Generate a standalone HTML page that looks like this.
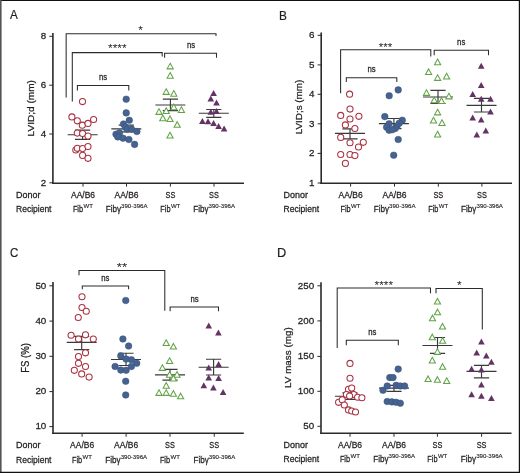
<!DOCTYPE html><html><head><meta charset="utf-8"><style>html,body{margin:0;padding:0;background:#fff;}svg{display:block;will-change:transform;}text{font-family:"Liberation Sans",sans-serif;fill:#231f20;stroke:#231f20;stroke-width:0.26px;}</style></head><body>
<svg width="520" height="473" viewBox="0 0 520 473">
<rect x="0" y="0" width="520" height="473" fill="#fff"/>
<text x="10" y="19.2" font-size="13" text-anchor="start" textLength="7.8" lengthAdjust="spacingAndGlyphs" style="stroke-width:0.2px">A</text>
<path d="M52.9 32.9V183.9" stroke="#2a2a2a" stroke-width="1.6" fill="none"/>
<path d="M52.2 183.2H244" stroke="#2a2a2a" stroke-width="1.6" fill="none"/>
<path d="M49.3 36.3H52.9" stroke="#2b2b2b" stroke-width="1" fill="none"/>
<text x="46.2" y="39" font-size="9.8" text-anchor="end">8</text>
<path d="M49.3 85.2H52.9" stroke="#2b2b2b" stroke-width="1" fill="none"/>
<text x="46.2" y="87.9" font-size="9.8" text-anchor="end">6</text>
<path d="M49.3 134H52.9" stroke="#2b2b2b" stroke-width="1" fill="none"/>
<text x="46.2" y="136.7" font-size="9.8" text-anchor="end">4</text>
<path d="M49.3 182.8H52.9" stroke="#2b2b2b" stroke-width="1" fill="none"/>
<text x="46.2" y="185.5" font-size="9.8" text-anchor="end">2</text>
<path d="M83 183.2V186.6" stroke="#2b2b2b" stroke-width="1" fill="none"/>
<path d="M126.5 183.2V186.6" stroke="#2b2b2b" stroke-width="1" fill="none"/>
<path d="M170.4 183.2V186.6" stroke="#2b2b2b" stroke-width="1" fill="none"/>
<path d="M214 183.2V186.6" stroke="#2b2b2b" stroke-width="1" fill="none"/>
<text transform="translate(34.3 108.25) rotate(-90)" x="0" y="0" font-size="9.8" text-anchor="middle" textLength="56.3" lengthAdjust="spacingAndGlyphs">LVID;d (mm)</text>
<path d="M66.15 97.6V33.7H216V35.9" stroke="#2b2b2b" stroke-width="1.05" fill="none"/>
<text x="140.6" y="34.35" font-size="11.8" text-anchor="middle" textLength="4.65" lengthAdjust="spacingAndGlyphs" style="stroke-width:0px">*</text>
<path d="M72.3 101.6V52.6H162.2V56.4" stroke="#2b2b2b" stroke-width="1.05" fill="none"/>
<text x="117.3" y="52.35" font-size="11.8" text-anchor="middle" textLength="18.6" lengthAdjust="spacingAndGlyphs" style="stroke-width:0px">****</text>
<path d="M77.4 90.4V85.5H128.8V90.4" stroke="#2b2b2b" stroke-width="1.05" fill="none"/>
<text x="103" y="79.9" font-size="9" text-anchor="middle" textLength="8.2" lengthAdjust="spacingAndGlyphs">ns</text>
<path d="M164.6 57.7V53.2H216.5V57.7" stroke="#2b2b2b" stroke-width="1.05" fill="none"/>
<text x="191" y="47.6" font-size="9" text-anchor="middle" textLength="8.2" lengthAdjust="spacingAndGlyphs">ns</text>
<path d="M67.6 134.75H97.6 M75 130.1H90.2 M75 139.4H90.2 M82.6 130.1V139.4" stroke="#3a3a3a" stroke-width="1.15" fill="none"/>
<path d="M111.3 128.9H141.3 M118.7 125.05H133.9 M118.7 131.8H133.9 M126.3 125.05V131.8" stroke="#3a3a3a" stroke-width="1.15" fill="none"/>
<path d="M155.4 105H185.4 M162.8 99.1H178 M162.8 110.6H178 M170.4 99.1V110.6" stroke="#3a3a3a" stroke-width="1.15" fill="none"/>
<path d="M198.8 113.2H228.8 M206.2 109.5H221.4 M206.2 117.3H221.4 M213.8 109.5V117.3" stroke="#3a3a3a" stroke-width="1.15" fill="none"/>
<circle cx="82.5" cy="101.6" r="3.05" fill="#fff" stroke="#a9303f" stroke-width="1.05"/>
<circle cx="71.9" cy="116.9" r="3.05" fill="#fff" stroke="#a9303f" stroke-width="1.05"/>
<circle cx="77.3" cy="120.8" r="3.05" fill="#fff" stroke="#a9303f" stroke-width="1.05"/>
<circle cx="82.3" cy="125.2" r="3.05" fill="#fff" stroke="#a9303f" stroke-width="1.05"/>
<circle cx="88" cy="123.4" r="3.05" fill="#fff" stroke="#a9303f" stroke-width="1.05"/>
<circle cx="93.6" cy="119.5" r="3.05" fill="#fff" stroke="#a9303f" stroke-width="1.05"/>
<circle cx="77.3" cy="133.1" r="3.05" fill="#fff" stroke="#a9303f" stroke-width="1.05"/>
<circle cx="82.6" cy="133.5" r="3.05" fill="#fff" stroke="#a9303f" stroke-width="1.05"/>
<circle cx="88" cy="136.1" r="3.05" fill="#fff" stroke="#a9303f" stroke-width="1.05"/>
<circle cx="75.8" cy="150" r="3.05" fill="#fff" stroke="#a9303f" stroke-width="1.05"/>
<circle cx="77.3" cy="148.3" r="3.05" fill="#fff" stroke="#a9303f" stroke-width="1.05"/>
<circle cx="82.6" cy="148.6" r="3.05" fill="#fff" stroke="#a9303f" stroke-width="1.05"/>
<circle cx="88" cy="146.5" r="3.05" fill="#fff" stroke="#a9303f" stroke-width="1.05"/>
<circle cx="82.6" cy="155.4" r="3.05" fill="#fff" stroke="#a9303f" stroke-width="1.05"/>
<circle cx="88" cy="158.3" r="3.05" fill="#fff" stroke="#a9303f" stroke-width="1.05"/>
<circle cx="126.2" cy="99.2" r="3.3" fill="#46628e" stroke="#36527e" stroke-width="0.5"/>
<circle cx="126.2" cy="112.9" r="3.3" fill="#46628e" stroke="#36527e" stroke-width="0.5"/>
<circle cx="129.3" cy="120.3" r="3.3" fill="#46628e" stroke="#36527e" stroke-width="0.5"/>
<circle cx="123.5" cy="124" r="3.3" fill="#46628e" stroke="#36527e" stroke-width="0.5"/>
<circle cx="125.3" cy="127.1" r="3.3" fill="#46628e" stroke="#36527e" stroke-width="0.5"/>
<circle cx="127.1" cy="129.3" r="3.3" fill="#46628e" stroke="#36527e" stroke-width="0.5"/>
<circle cx="131.5" cy="129.1" r="3.3" fill="#46628e" stroke="#36527e" stroke-width="0.5"/>
<circle cx="136.9" cy="131.5" r="3.3" fill="#46628e" stroke="#36527e" stroke-width="0.5"/>
<circle cx="116" cy="134.2" r="3.3" fill="#46628e" stroke="#36527e" stroke-width="0.5"/>
<circle cx="119.5" cy="132.9" r="3.3" fill="#46628e" stroke="#36527e" stroke-width="0.5"/>
<circle cx="117.8" cy="136.9" r="3.3" fill="#46628e" stroke="#36527e" stroke-width="0.5"/>
<circle cx="123.1" cy="138.2" r="3.3" fill="#46628e" stroke="#36527e" stroke-width="0.5"/>
<circle cx="128.9" cy="139.5" r="3.3" fill="#46628e" stroke="#36527e" stroke-width="0.5"/>
<circle cx="134.6" cy="144.4" r="3.3" fill="#46628e" stroke="#36527e" stroke-width="0.5"/>
<path d="M170.2 63.25L173.3 68.85L167.1 68.85Z" fill="#fff" stroke="#62a348" stroke-width="1.05" stroke-linejoin="miter"/>
<path d="M170.2 72.55L173.3 78.15L167.1 78.15Z" fill="#fff" stroke="#62a348" stroke-width="1.05" stroke-linejoin="miter"/>
<path d="M166.2 88.75L169.3 94.35L163.1 94.35Z" fill="#fff" stroke="#62a348" stroke-width="1.05" stroke-linejoin="miter"/>
<path d="M173.8 90.55L176.9 96.15L170.7 96.15Z" fill="#fff" stroke="#62a348" stroke-width="1.05" stroke-linejoin="miter"/>
<path d="M159 108.75L162.1 114.35L155.9 114.35Z" fill="#fff" stroke="#62a348" stroke-width="1.05" stroke-linejoin="miter"/>
<path d="M166.2 107.85L169.3 113.45L163.1 113.45Z" fill="#fff" stroke="#62a348" stroke-width="1.05" stroke-linejoin="miter"/>
<path d="M173.8 104.05L176.9 109.65L170.7 109.65Z" fill="#fff" stroke="#62a348" stroke-width="1.05" stroke-linejoin="miter"/>
<path d="M181.4 106.85L184.5 112.45L178.3 112.45Z" fill="#fff" stroke="#62a348" stroke-width="1.05" stroke-linejoin="miter"/>
<path d="M162.8 115.05L165.9 120.65L159.7 120.65Z" fill="#fff" stroke="#62a348" stroke-width="1.05" stroke-linejoin="miter"/>
<path d="M170 115.95L173.1 121.55L166.9 121.55Z" fill="#fff" stroke="#62a348" stroke-width="1.05" stroke-linejoin="miter"/>
<path d="M177.2 121.65L180.3 127.25L174.1 127.25Z" fill="#fff" stroke="#62a348" stroke-width="1.05" stroke-linejoin="miter"/>
<path d="M170 132.35L173.1 137.95L166.9 137.95Z" fill="#fff" stroke="#62a348" stroke-width="1.05" stroke-linejoin="miter"/>
<path d="M213.6 89.9L216.9 95.9L210.3 95.9Z" fill="#633363"/>
<path d="M210.8 95.4L214.1 101.4L207.5 101.4Z" fill="#633363"/>
<path d="M216.5 99.6L219.8 105.6L213.2 105.6Z" fill="#633363"/>
<path d="M210.8 108.7L214.1 114.7L207.5 114.7Z" fill="#633363"/>
<path d="M216.5 108L219.8 114L213.2 114Z" fill="#633363"/>
<path d="M202.4 118L205.7 124L199.1 124Z" fill="#633363"/>
<path d="M208 118.2L211.3 124.2L204.7 124.2Z" fill="#633363"/>
<path d="M213.6 119.9L216.9 125.9L210.3 125.9Z" fill="#633363"/>
<path d="M218.6 122.9L221.9 128.9L215.3 128.9Z" fill="#633363"/>
<path d="M224.1 125.4L227.4 131.4L220.8 131.4Z" fill="#633363"/>
<text x="16" y="198.2" font-size="9" text-anchor="start" textLength="24.4" lengthAdjust="spacingAndGlyphs">Donor</text>
<text x="16" y="212" font-size="9" text-anchor="start" textLength="35.5" lengthAdjust="spacingAndGlyphs">Recipient</text>
<text x="83" y="198.2" font-size="9" text-anchor="middle" textLength="24" lengthAdjust="spacingAndGlyphs">AA/B6</text>
<text x="126.5" y="198.2" font-size="9" text-anchor="middle" textLength="24" lengthAdjust="spacingAndGlyphs">AA/B6</text>
<text x="170.4" y="198.2" font-size="9" text-anchor="middle" textLength="9.8" lengthAdjust="spacingAndGlyphs">SS</text>
<text x="214" y="198.2" font-size="9" text-anchor="middle" textLength="9.8" lengthAdjust="spacingAndGlyphs">SS</text>
<text x="72.9" y="212" font-size="9" text-anchor="start" textLength="10.2" lengthAdjust="spacingAndGlyphs">Fib</text>
<text x="83.5" y="207.8" font-size="6.2" text-anchor="start" textLength="9.4" lengthAdjust="spacingAndGlyphs" style="stroke-width:0.14px">WT</text>
<text x="105.7" y="212" font-size="9" text-anchor="start" textLength="15.3" lengthAdjust="spacingAndGlyphs">Fib&#947;</text>
<text x="121.1" y="207.8" font-size="6.2" text-anchor="start" textLength="26.4" lengthAdjust="spacingAndGlyphs" style="stroke-width:0.14px">390-396A</text>
<text x="160.3" y="212" font-size="9" text-anchor="start" textLength="10.2" lengthAdjust="spacingAndGlyphs">Fib</text>
<text x="170.9" y="207.8" font-size="6.2" text-anchor="start" textLength="9.4" lengthAdjust="spacingAndGlyphs" style="stroke-width:0.14px">WT</text>
<text x="193.2" y="212" font-size="9" text-anchor="start" textLength="15.3" lengthAdjust="spacingAndGlyphs">Fib&#947;</text>
<text x="208.6" y="207.8" font-size="6.2" text-anchor="start" textLength="26.4" lengthAdjust="spacingAndGlyphs" style="stroke-width:0.14px">390-396A</text>
<text x="279" y="19.5" font-size="12.5" text-anchor="start" textLength="7.9" lengthAdjust="spacingAndGlyphs" style="stroke-width:0.2px">B</text>
<path d="M321.2 32.6V183.9" stroke="#2a2a2a" stroke-width="1.6" fill="none"/>
<path d="M320.4 183.2H512" stroke="#2a2a2a" stroke-width="1.6" fill="none"/>
<path d="M317.6 35.3H321.2" stroke="#2b2b2b" stroke-width="1" fill="none"/>
<text x="314.4" y="38" font-size="9.8" text-anchor="end">6</text>
<path d="M317.6 64.9H321.2" stroke="#2b2b2b" stroke-width="1" fill="none"/>
<text x="314.4" y="67.6" font-size="9.8" text-anchor="end">5</text>
<path d="M317.6 94.3H321.2" stroke="#2b2b2b" stroke-width="1" fill="none"/>
<text x="314.4" y="97" font-size="9.8" text-anchor="end">4</text>
<path d="M317.6 123.8H321.2" stroke="#2b2b2b" stroke-width="1" fill="none"/>
<text x="314.4" y="126.5" font-size="9.8" text-anchor="end">3</text>
<path d="M317.6 153.4H321.2" stroke="#2b2b2b" stroke-width="1" fill="none"/>
<text x="314.4" y="156.1" font-size="9.8" text-anchor="end">2</text>
<path d="M317.6 183H321.2" stroke="#2b2b2b" stroke-width="1" fill="none"/>
<text x="314.4" y="185.7" font-size="9.8" text-anchor="end">1</text>
<path d="M350.6 183.2V186.6" stroke="#2b2b2b" stroke-width="1" fill="none"/>
<path d="M394.5 183.2V186.6" stroke="#2b2b2b" stroke-width="1" fill="none"/>
<path d="M438.3 183.2V186.6" stroke="#2b2b2b" stroke-width="1" fill="none"/>
<path d="M481.9 183.2V186.6" stroke="#2b2b2b" stroke-width="1" fill="none"/>
<text transform="translate(301.8 107) rotate(-90)" x="0" y="0" font-size="9.8" text-anchor="middle" textLength="54.5" lengthAdjust="spacingAndGlyphs">LVID;s (mm)</text>
<path d="M340.6 93.3V49.8H430.8V56.5" stroke="#2b2b2b" stroke-width="1.05" fill="none"/>
<text x="385.6" y="51.05" font-size="11.8" text-anchor="middle" textLength="13.5" lengthAdjust="spacingAndGlyphs" style="stroke-width:0px">***</text>
<path d="M346.3 82V77.8H396.8V82" stroke="#2b2b2b" stroke-width="1.05" fill="none"/>
<text x="371.5" y="71.6" font-size="9" text-anchor="middle" textLength="8.2" lengthAdjust="spacingAndGlyphs">ns</text>
<path d="M434.2 55.3V50.3H488.5V55.3" stroke="#2b2b2b" stroke-width="1.05" fill="none"/>
<text x="461.2" y="44.5" font-size="9" text-anchor="middle" textLength="8.2" lengthAdjust="spacingAndGlyphs">ns</text>
<path d="M335 133.4H365 M342.4 128.8H357.6 M342.4 138.9H357.6 M350 128.8V138.9" stroke="#3a3a3a" stroke-width="1.15" fill="none"/>
<path d="M378.9 123.6H408.9 M386.3 118.5H401.5 M386.3 128.6H401.5 M393.9 118.5V128.6" stroke="#3a3a3a" stroke-width="1.15" fill="none"/>
<path d="M423 97H453 M430.4 90.3H445.6 M430.4 103.5H445.6 M438 90.3V103.5" stroke="#3a3a3a" stroke-width="1.15" fill="none"/>
<path d="M466.5 105.3H496.5 M473.9 98.4H489.1 M473.9 112H489.1 M481.5 98.4V112" stroke="#3a3a3a" stroke-width="1.15" fill="none"/>
<circle cx="349.6" cy="94.2" r="3.05" fill="#fff" stroke="#a9303f" stroke-width="1.05"/>
<circle cx="350" cy="109.1" r="3.05" fill="#fff" stroke="#a9303f" stroke-width="1.05"/>
<circle cx="340.7" cy="115.4" r="3.05" fill="#fff" stroke="#a9303f" stroke-width="1.05"/>
<circle cx="350" cy="119" r="3.05" fill="#fff" stroke="#a9303f" stroke-width="1.05"/>
<circle cx="358.9" cy="116.3" r="3.05" fill="#fff" stroke="#a9303f" stroke-width="1.05"/>
<circle cx="345.4" cy="124.9" r="3.05" fill="#fff" stroke="#a9303f" stroke-width="1.05"/>
<circle cx="354.9" cy="128.5" r="3.05" fill="#fff" stroke="#a9303f" stroke-width="1.05"/>
<circle cx="340.7" cy="137.4" r="3.05" fill="#fff" stroke="#a9303f" stroke-width="1.05"/>
<circle cx="350" cy="142.7" r="3.05" fill="#fff" stroke="#a9303f" stroke-width="1.05"/>
<circle cx="363.3" cy="142.3" r="3.05" fill="#fff" stroke="#a9303f" stroke-width="1.05"/>
<circle cx="358.5" cy="147" r="3.05" fill="#fff" stroke="#a9303f" stroke-width="1.05"/>
<circle cx="340.7" cy="154.5" r="3.05" fill="#fff" stroke="#a9303f" stroke-width="1.05"/>
<circle cx="350" cy="154.5" r="3.05" fill="#fff" stroke="#a9303f" stroke-width="1.05"/>
<circle cx="354.9" cy="155.6" r="3.05" fill="#fff" stroke="#a9303f" stroke-width="1.05"/>
<circle cx="345.4" cy="163.4" r="3.05" fill="#fff" stroke="#a9303f" stroke-width="1.05"/>
<circle cx="398.2" cy="89.9" r="3.3" fill="#46628e" stroke="#36527e" stroke-width="0.5"/>
<circle cx="389.2" cy="95.7" r="3.3" fill="#46628e" stroke="#36527e" stroke-width="0.5"/>
<circle cx="384.8" cy="116.6" r="3.3" fill="#46628e" stroke="#36527e" stroke-width="0.5"/>
<circle cx="402.3" cy="120.2" r="3.3" fill="#46628e" stroke="#36527e" stroke-width="0.5"/>
<circle cx="399.2" cy="123.2" r="3.3" fill="#46628e" stroke="#36527e" stroke-width="0.5"/>
<circle cx="397.1" cy="126" r="3.3" fill="#46628e" stroke="#36527e" stroke-width="0.5"/>
<circle cx="395.2" cy="128.5" r="3.3" fill="#46628e" stroke="#36527e" stroke-width="0.5"/>
<circle cx="389.1" cy="123.8" r="3.3" fill="#46628e" stroke="#36527e" stroke-width="0.5"/>
<circle cx="386.6" cy="127.2" r="3.3" fill="#46628e" stroke="#36527e" stroke-width="0.5"/>
<circle cx="389.1" cy="130.3" r="3.3" fill="#46628e" stroke="#36527e" stroke-width="0.5"/>
<circle cx="392.2" cy="129.7" r="3.3" fill="#46628e" stroke="#36527e" stroke-width="0.5"/>
<circle cx="398.2" cy="139.5" r="3.3" fill="#46628e" stroke="#36527e" stroke-width="0.5"/>
<circle cx="393.7" cy="155.2" r="3.3" fill="#46628e" stroke="#36527e" stroke-width="0.5"/>
<path d="M437.6 59.05L440.7 64.65L434.5 64.65Z" fill="#fff" stroke="#62a348" stroke-width="1.05" stroke-linejoin="miter"/>
<path d="M428.6 68.95L431.7 74.55L425.5 74.55Z" fill="#fff" stroke="#62a348" stroke-width="1.05" stroke-linejoin="miter"/>
<path d="M437.6 74.75L440.7 80.35L434.5 80.35Z" fill="#fff" stroke="#62a348" stroke-width="1.05" stroke-linejoin="miter"/>
<path d="M446.6 73.35L449.7 78.95L443.5 78.95Z" fill="#fff" stroke="#62a348" stroke-width="1.05" stroke-linejoin="miter"/>
<path d="M426.5 89.75L429.6 95.35L423.4 95.35Z" fill="#fff" stroke="#62a348" stroke-width="1.05" stroke-linejoin="miter"/>
<path d="M448.9 93.25L452 98.85L445.8 98.85Z" fill="#fff" stroke="#62a348" stroke-width="1.05" stroke-linejoin="miter"/>
<path d="M434.2 97.15L437.3 102.75L431.1 102.75Z" fill="#fff" stroke="#62a348" stroke-width="1.05" stroke-linejoin="miter"/>
<path d="M441.5 97.85L444.6 103.45L438.4 103.45Z" fill="#fff" stroke="#62a348" stroke-width="1.05" stroke-linejoin="miter"/>
<path d="M437.6 109.25L440.7 114.85L434.5 114.85Z" fill="#fff" stroke="#62a348" stroke-width="1.05" stroke-linejoin="miter"/>
<path d="M433.5 117.35L436.6 122.95L430.4 122.95Z" fill="#fff" stroke="#62a348" stroke-width="1.05" stroke-linejoin="miter"/>
<path d="M442 119.85L445.1 125.45L438.9 125.45Z" fill="#fff" stroke="#62a348" stroke-width="1.05" stroke-linejoin="miter"/>
<path d="M437.6 131.35L440.7 136.95L434.5 136.95Z" fill="#fff" stroke="#62a348" stroke-width="1.05" stroke-linejoin="miter"/>
<path d="M481.2 62.7L484.5 68.7L477.9 68.7Z" fill="#633363"/>
<path d="M481.2 81.9L484.5 87.9L477.9 87.9Z" fill="#633363"/>
<path d="M472.7 91.1L476 97.1L469.4 97.1Z" fill="#633363"/>
<path d="M481.2 95.7L484.5 101.7L477.9 101.7Z" fill="#633363"/>
<path d="M490.5 95.7L493.8 101.7L487.2 101.7Z" fill="#633363"/>
<path d="M490.5 108.4L493.8 114.4L487.2 114.4Z" fill="#633363"/>
<path d="M472.7 114.6L476 120.6L469.4 120.6Z" fill="#633363"/>
<path d="M481.2 116.6L484.5 122.6L477.9 122.6Z" fill="#633363"/>
<path d="M485.8 127.4L489.1 133.4L482.5 133.4Z" fill="#633363"/>
<path d="M476.8 131.5L480.1 137.5L473.5 137.5Z" fill="#633363"/>
<text x="283.6" y="198.2" font-size="9" text-anchor="start" textLength="24.4" lengthAdjust="spacingAndGlyphs">Donor</text>
<text x="283.6" y="212" font-size="9" text-anchor="start" textLength="35.5" lengthAdjust="spacingAndGlyphs">Recipient</text>
<text x="350.6" y="198.2" font-size="9" text-anchor="middle" textLength="24" lengthAdjust="spacingAndGlyphs">AA/B6</text>
<text x="394.5" y="198.2" font-size="9" text-anchor="middle" textLength="24" lengthAdjust="spacingAndGlyphs">AA/B6</text>
<text x="438.3" y="198.2" font-size="9" text-anchor="middle" textLength="9.8" lengthAdjust="spacingAndGlyphs">SS</text>
<text x="481.9" y="198.2" font-size="9" text-anchor="middle" textLength="9.8" lengthAdjust="spacingAndGlyphs">SS</text>
<text x="340.5" y="212" font-size="9" text-anchor="start" textLength="10.2" lengthAdjust="spacingAndGlyphs">Fib</text>
<text x="351.1" y="207.8" font-size="6.2" text-anchor="start" textLength="9.4" lengthAdjust="spacingAndGlyphs" style="stroke-width:0.14px">WT</text>
<text x="373.7" y="212" font-size="9" text-anchor="start" textLength="15.3" lengthAdjust="spacingAndGlyphs">Fib&#947;</text>
<text x="389.1" y="207.8" font-size="6.2" text-anchor="start" textLength="26.4" lengthAdjust="spacingAndGlyphs" style="stroke-width:0.14px">390-396A</text>
<text x="428.2" y="212" font-size="9" text-anchor="start" textLength="10.2" lengthAdjust="spacingAndGlyphs">Fib</text>
<text x="438.8" y="207.8" font-size="6.2" text-anchor="start" textLength="9.4" lengthAdjust="spacingAndGlyphs" style="stroke-width:0.14px">WT</text>
<text x="461.1" y="212" font-size="9" text-anchor="start" textLength="15.3" lengthAdjust="spacingAndGlyphs">Fib&#947;</text>
<text x="476.5" y="207.8" font-size="6.2" text-anchor="start" textLength="26.4" lengthAdjust="spacingAndGlyphs" style="stroke-width:0.14px">390-396A</text>
<text x="9.9" y="256.8" font-size="12.5" text-anchor="start" textLength="8.3" lengthAdjust="spacingAndGlyphs" style="stroke-width:0.2px">C</text>
<path d="M53 282.1V434" stroke="#2a2a2a" stroke-width="1.6" fill="none"/>
<path d="M52.3 433.3H243.8" stroke="#2a2a2a" stroke-width="1.6" fill="none"/>
<path d="M49.4 285.8H53" stroke="#2b2b2b" stroke-width="1" fill="none"/>
<text x="46.3" y="288.5" font-size="9.8" text-anchor="end">50</text>
<path d="M49.4 321.1H53" stroke="#2b2b2b" stroke-width="1" fill="none"/>
<text x="46.3" y="323.8" font-size="9.8" text-anchor="end">40</text>
<path d="M49.4 356.3H53" stroke="#2b2b2b" stroke-width="1" fill="none"/>
<text x="46.3" y="359" font-size="9.8" text-anchor="end">30</text>
<path d="M49.4 391.6H53" stroke="#2b2b2b" stroke-width="1" fill="none"/>
<text x="46.3" y="394.3" font-size="9.8" text-anchor="end">20</text>
<path d="M49.4 426.6H53" stroke="#2b2b2b" stroke-width="1" fill="none"/>
<text x="46.3" y="429.3" font-size="9.8" text-anchor="end">10</text>
<path d="M82.1 433.3V436.7" stroke="#2b2b2b" stroke-width="1" fill="none"/>
<path d="M126.1 433.3V436.7" stroke="#2b2b2b" stroke-width="1" fill="none"/>
<path d="M170 433.3V436.7" stroke="#2b2b2b" stroke-width="1" fill="none"/>
<path d="M214.25 433.3V436.7" stroke="#2b2b2b" stroke-width="1" fill="none"/>
<text transform="translate(28.5 357.9) rotate(-90)" x="0" y="0" font-size="10.4" text-anchor="middle" textLength="29.8" lengthAdjust="spacingAndGlyphs">FS (%)</text>
<path d="M79 275.3V270.4H164.8V310.7" stroke="#2b2b2b" stroke-width="1.05" fill="none"/>
<text x="122" y="271.05" font-size="11.8" text-anchor="middle" textLength="10.4" lengthAdjust="spacingAndGlyphs" style="stroke-width:0px">**</text>
<path d="M82.3 289.3V285.9H128.6V289.3" stroke="#2b2b2b" stroke-width="1.05" fill="none"/>
<text x="105.3" y="281" font-size="9" text-anchor="middle" textLength="8.2" lengthAdjust="spacingAndGlyphs">ns</text>
<path d="M170.1 311.2V307H218.5V311.2" stroke="#2b2b2b" stroke-width="1.05" fill="none"/>
<text x="194.5" y="301.5" font-size="9" text-anchor="middle" textLength="8.2" lengthAdjust="spacingAndGlyphs">ns</text>
<path d="M66.7 342.4H96.7 M74.1 336.3H89.3 M74.1 349.6H89.3 M81.7 336.3V349.6" stroke="#3a3a3a" stroke-width="1.15" fill="none"/>
<path d="M111 359.5H141 M118.4 353.2H133.6 M118.4 365.5H133.6 M126 353.2V365.5" stroke="#3a3a3a" stroke-width="1.15" fill="none"/>
<path d="M155 374.8H185 M162.4 369.3H177.6 M162.4 380.1H177.6 M170 369.3V380.1" stroke="#3a3a3a" stroke-width="1.15" fill="none"/>
<path d="M198.6 367.2H228.6 M206 359.2H221.2 M206 375H221.2 M213.6 359.2V375" stroke="#3a3a3a" stroke-width="1.15" fill="none"/>
<circle cx="82" cy="296.75" r="3.05" fill="#fff" stroke="#a9303f" stroke-width="1.05"/>
<circle cx="82" cy="307.5" r="3.05" fill="#fff" stroke="#a9303f" stroke-width="1.05"/>
<circle cx="86.25" cy="311.25" r="3.05" fill="#fff" stroke="#a9303f" stroke-width="1.05"/>
<circle cx="78.25" cy="317.5" r="3.05" fill="#fff" stroke="#a9303f" stroke-width="1.05"/>
<circle cx="71.1" cy="335.2" r="3.05" fill="#fff" stroke="#a9303f" stroke-width="1.05"/>
<circle cx="85.5" cy="334.8" r="3.05" fill="#fff" stroke="#a9303f" stroke-width="1.05"/>
<circle cx="78.5" cy="339" r="3.05" fill="#fff" stroke="#a9303f" stroke-width="1.05"/>
<circle cx="93.3" cy="339" r="3.05" fill="#fff" stroke="#a9303f" stroke-width="1.05"/>
<circle cx="85.5" cy="352.8" r="3.05" fill="#fff" stroke="#a9303f" stroke-width="1.05"/>
<circle cx="78.5" cy="356.6" r="3.05" fill="#fff" stroke="#a9303f" stroke-width="1.05"/>
<circle cx="78.5" cy="363.3" r="3.05" fill="#fff" stroke="#a9303f" stroke-width="1.05"/>
<circle cx="85.5" cy="366.5" r="3.05" fill="#fff" stroke="#a9303f" stroke-width="1.05"/>
<circle cx="74.3" cy="370.3" r="3.05" fill="#fff" stroke="#a9303f" stroke-width="1.05"/>
<circle cx="81.7" cy="373.9" r="3.05" fill="#fff" stroke="#a9303f" stroke-width="1.05"/>
<circle cx="89.1" cy="377.1" r="3.05" fill="#fff" stroke="#a9303f" stroke-width="1.05"/>
<circle cx="125.75" cy="300.5" r="3.3" fill="#46628e" stroke="#36527e" stroke-width="0.5"/>
<circle cx="122.9" cy="339" r="3.3" fill="#46628e" stroke="#36527e" stroke-width="0.5"/>
<circle cx="128.6" cy="346" r="3.3" fill="#46628e" stroke="#36527e" stroke-width="0.5"/>
<circle cx="120.8" cy="355.9" r="3.3" fill="#46628e" stroke="#36527e" stroke-width="0.5"/>
<circle cx="126.1" cy="359.1" r="3.3" fill="#46628e" stroke="#36527e" stroke-width="0.5"/>
<circle cx="131.4" cy="359.7" r="3.3" fill="#46628e" stroke="#36527e" stroke-width="0.5"/>
<circle cx="136.7" cy="363.3" r="3.3" fill="#46628e" stroke="#36527e" stroke-width="0.5"/>
<circle cx="115.1" cy="366.5" r="3.3" fill="#46628e" stroke="#36527e" stroke-width="0.5"/>
<circle cx="120.8" cy="370.1" r="3.3" fill="#46628e" stroke="#36527e" stroke-width="0.5"/>
<circle cx="126.1" cy="370.3" r="3.3" fill="#46628e" stroke="#36527e" stroke-width="0.5"/>
<circle cx="131.4" cy="366.5" r="3.3" fill="#46628e" stroke="#36527e" stroke-width="0.5"/>
<circle cx="125.7" cy="381.3" r="3.3" fill="#46628e" stroke="#36527e" stroke-width="0.5"/>
<circle cx="125.7" cy="395" r="3.3" fill="#46628e" stroke="#36527e" stroke-width="0.5"/>
<path d="M166.2 339.85L169.3 345.45L163.1 345.45Z" fill="#fff" stroke="#62a348" stroke-width="1.05" stroke-linejoin="miter"/>
<path d="M173.4 343.45L176.5 349.05L170.3 349.05Z" fill="#fff" stroke="#62a348" stroke-width="1.05" stroke-linejoin="miter"/>
<path d="M169.6 357.85L172.7 363.45L166.5 363.45Z" fill="#fff" stroke="#62a348" stroke-width="1.05" stroke-linejoin="miter"/>
<path d="M162.4 364.75L165.5 370.35L159.3 370.35Z" fill="#fff" stroke="#62a348" stroke-width="1.05" stroke-linejoin="miter"/>
<path d="M169.6 371.55L172.7 377.15L166.5 377.15Z" fill="#fff" stroke="#62a348" stroke-width="1.05" stroke-linejoin="miter"/>
<path d="M177 371.55L180.1 377.15L173.9 377.15Z" fill="#fff" stroke="#62a348" stroke-width="1.05" stroke-linejoin="miter"/>
<path d="M173.4 375.35L176.5 380.95L170.3 380.95Z" fill="#fff" stroke="#62a348" stroke-width="1.05" stroke-linejoin="miter"/>
<path d="M166.2 382.55L169.3 388.15L163.1 388.15Z" fill="#fff" stroke="#62a348" stroke-width="1.05" stroke-linejoin="miter"/>
<path d="M159 389.75L162.1 395.35L155.9 395.35Z" fill="#fff" stroke="#62a348" stroke-width="1.05" stroke-linejoin="miter"/>
<path d="M166.2 389.75L169.3 395.35L163.1 395.35Z" fill="#fff" stroke="#62a348" stroke-width="1.05" stroke-linejoin="miter"/>
<path d="M173.4 390.55L176.5 396.15L170.3 396.15Z" fill="#fff" stroke="#62a348" stroke-width="1.05" stroke-linejoin="miter"/>
<path d="M180.6 393.15L183.7 398.75L177.5 398.75Z" fill="#fff" stroke="#62a348" stroke-width="1.05" stroke-linejoin="miter"/>
<path d="M208.75 322.4L212.05 328.4L205.45 328.4Z" fill="#633363"/>
<path d="M218.4 329.4L221.7 335.4L215.1 335.4Z" fill="#633363"/>
<path d="M208.7 364.5L212 370.5L205.4 370.5Z" fill="#633363"/>
<path d="M218.6 361.1L221.9 367.1L215.3 367.1Z" fill="#633363"/>
<path d="M208.7 374.5L212 380.5L205.4 380.5Z" fill="#633363"/>
<path d="M218.6 375.1L221.9 381.1L215.3 381.1Z" fill="#633363"/>
<path d="M203.8 382.3L207.1 388.3L200.5 388.3Z" fill="#633363"/>
<path d="M213.4 384.4L216.7 390.4L210.1 390.4Z" fill="#633363"/>
<path d="M223.1 388.9L226.4 394.9L219.8 394.9Z" fill="#633363"/>
<text x="16" y="448.2" font-size="9" text-anchor="start" textLength="24.4" lengthAdjust="spacingAndGlyphs">Donor</text>
<text x="16" y="462.7" font-size="9" text-anchor="start" textLength="35.5" lengthAdjust="spacingAndGlyphs">Recipient</text>
<text x="82.1" y="448.2" font-size="9" text-anchor="middle" textLength="24" lengthAdjust="spacingAndGlyphs">AA/B6</text>
<text x="126.1" y="448.2" font-size="9" text-anchor="middle" textLength="24" lengthAdjust="spacingAndGlyphs">AA/B6</text>
<text x="170" y="448.2" font-size="9" text-anchor="middle" textLength="9.8" lengthAdjust="spacingAndGlyphs">SS</text>
<text x="214.25" y="448.2" font-size="9" text-anchor="middle" textLength="9.8" lengthAdjust="spacingAndGlyphs">SS</text>
<text x="72" y="462.7" font-size="9" text-anchor="start" textLength="10.2" lengthAdjust="spacingAndGlyphs">Fib</text>
<text x="82.6" y="458.5" font-size="6.2" text-anchor="start" textLength="9.4" lengthAdjust="spacingAndGlyphs" style="stroke-width:0.14px">WT</text>
<text x="105.3" y="462.7" font-size="9" text-anchor="start" textLength="15.3" lengthAdjust="spacingAndGlyphs">Fib&#947;</text>
<text x="120.7" y="458.5" font-size="6.2" text-anchor="start" textLength="26.4" lengthAdjust="spacingAndGlyphs" style="stroke-width:0.14px">390-396A</text>
<text x="159.9" y="462.7" font-size="9" text-anchor="start" textLength="10.2" lengthAdjust="spacingAndGlyphs">Fib</text>
<text x="170.5" y="458.5" font-size="6.2" text-anchor="start" textLength="9.4" lengthAdjust="spacingAndGlyphs" style="stroke-width:0.14px">WT</text>
<text x="193.45" y="462.7" font-size="9" text-anchor="start" textLength="15.3" lengthAdjust="spacingAndGlyphs">Fib&#947;</text>
<text x="208.85" y="458.5" font-size="6.2" text-anchor="start" textLength="26.4" lengthAdjust="spacingAndGlyphs" style="stroke-width:0.14px">390-396A</text>
<text x="276.9" y="256.5" font-size="12.8" text-anchor="start" style="stroke-width:0.2px">D</text>
<path d="M321 282.2V434" stroke="#2a2a2a" stroke-width="1.6" fill="none"/>
<path d="M320.3 433.3H511.5" stroke="#2a2a2a" stroke-width="1.6" fill="none"/>
<path d="M317.4 285.8H321" stroke="#2b2b2b" stroke-width="1" fill="none"/>
<text x="314.2" y="288.5" font-size="9.8" text-anchor="end">250</text>
<path d="M317.4 320.9H321" stroke="#2b2b2b" stroke-width="1" fill="none"/>
<text x="314.2" y="323.6" font-size="9.8" text-anchor="end">200</text>
<path d="M317.4 356.4H321" stroke="#2b2b2b" stroke-width="1" fill="none"/>
<text x="314.2" y="359.1" font-size="9.8" text-anchor="end">150</text>
<path d="M317.4 391.3H321" stroke="#2b2b2b" stroke-width="1" fill="none"/>
<text x="314.2" y="394" font-size="9.8" text-anchor="end">100</text>
<path d="M317.4 426.3H321" stroke="#2b2b2b" stroke-width="1" fill="none"/>
<text x="314.2" y="429" font-size="9.8" text-anchor="end">50</text>
<path d="M350 433.3V436.7" stroke="#2b2b2b" stroke-width="1" fill="none"/>
<path d="M394 433.3V436.7" stroke="#2b2b2b" stroke-width="1" fill="none"/>
<path d="M437.4 433.3V436.7" stroke="#2b2b2b" stroke-width="1" fill="none"/>
<path d="M481.6 433.3V436.7" stroke="#2b2b2b" stroke-width="1" fill="none"/>
<text transform="translate(291.4 357.6) rotate(-90)" x="0" y="0" font-size="9.8" text-anchor="middle" textLength="60.7" lengthAdjust="spacingAndGlyphs">LV mass (mg)</text>
<path d="M337.2 348V288H430.5V293.3" stroke="#2b2b2b" stroke-width="1.05" fill="none"/>
<text x="383.8" y="288.65" font-size="11.8" text-anchor="middle" textLength="18.4" lengthAdjust="spacingAndGlyphs" style="stroke-width:0px">****</text>
<path d="M346.3 345.3V340.3H398.3V345.3" stroke="#2b2b2b" stroke-width="1.05" fill="none"/>
<text x="372.3" y="334.7" font-size="9" text-anchor="middle" textLength="8.2" lengthAdjust="spacingAndGlyphs">ns</text>
<path d="M436 293.3V288.5H482.3V329.5" stroke="#2b2b2b" stroke-width="1.05" fill="none"/>
<text x="459.2" y="289.05" font-size="11.8" text-anchor="middle" textLength="4.65" lengthAdjust="spacingAndGlyphs" style="stroke-width:0px">*</text>
<path d="M335 396.2H365 M342.4 392.8H357.6 M342.4 399.3H357.6 M350 392.8V399.3" stroke="#3a3a3a" stroke-width="1.15" fill="none"/>
<path d="M379 388.1H409 M386.4 385.4H401.6 M386.4 391.3H401.6 M394 385.4V391.3" stroke="#3a3a3a" stroke-width="1.15" fill="none"/>
<path d="M422.5 345.5H452.5 M429.9 337.5H445.1 M429.9 353.4H445.1 M437.5 337.5V353.4" stroke="#3a3a3a" stroke-width="1.15" fill="none"/>
<path d="M466.5 371.4H496.5 M473.9 365.3H489.1 M473.9 377.9H489.1 M481.5 365.3V377.9" stroke="#3a3a3a" stroke-width="1.15" fill="none"/>
<circle cx="350" cy="363.4" r="3.05" fill="#fff" stroke="#a9303f" stroke-width="1.05"/>
<circle cx="350" cy="378.2" r="3.05" fill="#fff" stroke="#a9303f" stroke-width="1.05"/>
<circle cx="348.5" cy="389.2" r="3.05" fill="#fff" stroke="#a9303f" stroke-width="1.05"/>
<circle cx="351.7" cy="388.1" r="3.05" fill="#fff" stroke="#a9303f" stroke-width="1.05"/>
<circle cx="346.4" cy="394.5" r="3.05" fill="#fff" stroke="#a9303f" stroke-width="1.05"/>
<circle cx="353.8" cy="394.5" r="3.05" fill="#fff" stroke="#a9303f" stroke-width="1.05"/>
<circle cx="349.6" cy="396" r="3.05" fill="#fff" stroke="#a9303f" stroke-width="1.05"/>
<circle cx="357.6" cy="397.2" r="3.05" fill="#fff" stroke="#a9303f" stroke-width="1.05"/>
<circle cx="361.9" cy="397.7" r="3.05" fill="#fff" stroke="#a9303f" stroke-width="1.05"/>
<circle cx="338.6" cy="402.3" r="3.05" fill="#fff" stroke="#a9303f" stroke-width="1.05"/>
<circle cx="342.2" cy="399.8" r="3.05" fill="#fff" stroke="#a9303f" stroke-width="1.05"/>
<circle cx="344.3" cy="405" r="3.05" fill="#fff" stroke="#a9303f" stroke-width="1.05"/>
<circle cx="348.5" cy="409.9" r="3.05" fill="#fff" stroke="#a9303f" stroke-width="1.05"/>
<circle cx="351.7" cy="411" r="3.05" fill="#fff" stroke="#a9303f" stroke-width="1.05"/>
<circle cx="355.5" cy="412" r="3.05" fill="#fff" stroke="#a9303f" stroke-width="1.05"/>
<circle cx="398.2" cy="369.1" r="3.3" fill="#46628e" stroke="#36527e" stroke-width="0.5"/>
<circle cx="389.8" cy="377.6" r="3.3" fill="#46628e" stroke="#36527e" stroke-width="0.5"/>
<circle cx="393" cy="377.6" r="3.3" fill="#46628e" stroke="#36527e" stroke-width="0.5"/>
<circle cx="387.2" cy="386" r="3.3" fill="#46628e" stroke="#36527e" stroke-width="0.5"/>
<circle cx="383" cy="390.3" r="3.3" fill="#46628e" stroke="#36527e" stroke-width="0.5"/>
<circle cx="396.1" cy="385.4" r="3.3" fill="#46628e" stroke="#36527e" stroke-width="0.5"/>
<circle cx="400.3" cy="386" r="3.3" fill="#46628e" stroke="#36527e" stroke-width="0.5"/>
<circle cx="404.6" cy="386" r="3.3" fill="#46628e" stroke="#36527e" stroke-width="0.5"/>
<circle cx="387.2" cy="401.5" r="3.3" fill="#46628e" stroke="#36527e" stroke-width="0.5"/>
<circle cx="391.9" cy="401.9" r="3.3" fill="#46628e" stroke="#36527e" stroke-width="0.5"/>
<circle cx="396.1" cy="402.3" r="3.3" fill="#46628e" stroke="#36527e" stroke-width="0.5"/>
<circle cx="400.3" cy="403.2" r="3.3" fill="#46628e" stroke="#36527e" stroke-width="0.5"/>
<path d="M437.5 298.4L440.6 304L434.4 304Z" fill="#fff" stroke="#62a348" stroke-width="1.05" stroke-linejoin="miter"/>
<path d="M437.5 309.15L440.6 314.75L434.4 314.75Z" fill="#fff" stroke="#62a348" stroke-width="1.05" stroke-linejoin="miter"/>
<path d="M432.5 315.15L435.6 320.75L429.4 320.75Z" fill="#fff" stroke="#62a348" stroke-width="1.05" stroke-linejoin="miter"/>
<path d="M442.5 323.4L445.6 329L439.4 329Z" fill="#fff" stroke="#62a348" stroke-width="1.05" stroke-linejoin="miter"/>
<path d="M432.3 334.15L435.4 339.75L429.2 339.75Z" fill="#fff" stroke="#62a348" stroke-width="1.05" stroke-linejoin="miter"/>
<path d="M442.6 337.65L445.7 343.25L439.5 343.25Z" fill="#fff" stroke="#62a348" stroke-width="1.05" stroke-linejoin="miter"/>
<path d="M437.4 348.75L440.5 354.35L434.3 354.35Z" fill="#fff" stroke="#62a348" stroke-width="1.05" stroke-linejoin="miter"/>
<path d="M432.3 357.35L435.4 362.95L429.2 362.95Z" fill="#fff" stroke="#62a348" stroke-width="1.05" stroke-linejoin="miter"/>
<path d="M442.6 363.65L445.7 369.25L439.5 369.25Z" fill="#fff" stroke="#62a348" stroke-width="1.05" stroke-linejoin="miter"/>
<path d="M428.1 375.95L431.2 381.55L425 381.55Z" fill="#fff" stroke="#62a348" stroke-width="1.05" stroke-linejoin="miter"/>
<path d="M437.4 376.65L440.5 382.25L434.3 382.25Z" fill="#fff" stroke="#62a348" stroke-width="1.05" stroke-linejoin="miter"/>
<path d="M446.7 377.85L449.8 383.45L443.6 383.45Z" fill="#fff" stroke="#62a348" stroke-width="1.05" stroke-linejoin="miter"/>
<path d="M481.4 338.5L484.7 344.5L478.1 344.5Z" fill="#633363"/>
<path d="M476.7 349.5L480 355.5L473.4 355.5Z" fill="#633363"/>
<path d="M486.3 352.5L489.6 358.5L483 358.5Z" fill="#633363"/>
<path d="M491.4 358.8L494.7 364.8L488.1 364.8Z" fill="#633363"/>
<path d="M471.6 365.7L474.9 371.7L468.3 371.7Z" fill="#633363"/>
<path d="M481.4 366.4L484.7 372.4L478.1 372.4Z" fill="#633363"/>
<path d="M481.4 381.6L484.7 387.6L478.1 387.6Z" fill="#633363"/>
<path d="M471.6 391.3L474.9 397.3L468.3 397.3Z" fill="#633363"/>
<path d="M481.4 392.7L484.7 398.7L478.1 398.7Z" fill="#633363"/>
<path d="M491.4 395L494.7 401L488.1 401Z" fill="#633363"/>
<text x="283.6" y="448.2" font-size="9" text-anchor="start" textLength="24.4" lengthAdjust="spacingAndGlyphs">Donor</text>
<text x="283.6" y="462.3" font-size="9" text-anchor="start" textLength="35.5" lengthAdjust="spacingAndGlyphs">Recipient</text>
<text x="350" y="448.2" font-size="9" text-anchor="middle" textLength="24" lengthAdjust="spacingAndGlyphs">AA/B6</text>
<text x="394" y="448.2" font-size="9" text-anchor="middle" textLength="24" lengthAdjust="spacingAndGlyphs">AA/B6</text>
<text x="437.4" y="448.2" font-size="9" text-anchor="middle" textLength="9.8" lengthAdjust="spacingAndGlyphs">SS</text>
<text x="481.6" y="448.2" font-size="9" text-anchor="middle" textLength="9.8" lengthAdjust="spacingAndGlyphs">SS</text>
<text x="339.9" y="462.3" font-size="9" text-anchor="start" textLength="10.2" lengthAdjust="spacingAndGlyphs">Fib</text>
<text x="350.5" y="458.1" font-size="6.2" text-anchor="start" textLength="9.4" lengthAdjust="spacingAndGlyphs" style="stroke-width:0.14px">WT</text>
<text x="373.2" y="462.3" font-size="9" text-anchor="start" textLength="15.3" lengthAdjust="spacingAndGlyphs">Fib&#947;</text>
<text x="388.6" y="458.1" font-size="6.2" text-anchor="start" textLength="26.4" lengthAdjust="spacingAndGlyphs" style="stroke-width:0.14px">390-396A</text>
<text x="427.3" y="462.3" font-size="9" text-anchor="start" textLength="10.2" lengthAdjust="spacingAndGlyphs">Fib</text>
<text x="437.9" y="458.1" font-size="6.2" text-anchor="start" textLength="9.4" lengthAdjust="spacingAndGlyphs" style="stroke-width:0.14px">WT</text>
<text x="460.8" y="462.3" font-size="9" text-anchor="start" textLength="15.3" lengthAdjust="spacingAndGlyphs">Fib&#947;</text>
<text x="476.2" y="458.1" font-size="6.2" text-anchor="start" textLength="26.4" lengthAdjust="spacingAndGlyphs" style="stroke-width:0.14px">390-396A</text>
<path d="M0 0.5H520" stroke="#111" stroke-width="1.2"/>
<path d="M0.8 0V473" stroke="#555" stroke-width="1.6"/>
<path d="M519.4 0V473" stroke="#111" stroke-width="1.2"/>
<path d="M0 472.4H520" stroke="#111" stroke-width="1.2"/>
</svg></body></html>
